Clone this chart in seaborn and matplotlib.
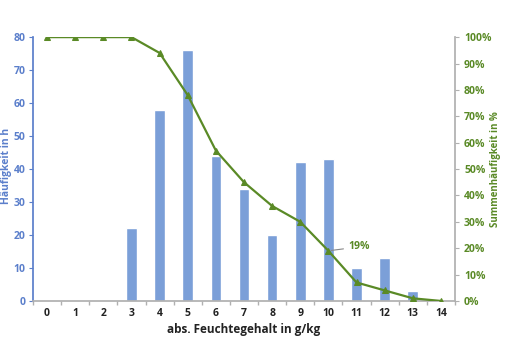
"""Häufigkeitsverteilung des absoluten Feuchtegehalts."""
import matplotlib
matplotlib.use("Agg")
import matplotlib.pyplot as plt
import matplotlib.ticker as mticker
import pandas as pd
import seaborn as sns

sns.set_theme(style="white")
plt.rcParams["font.family"] = ["Open Sans", "DejaVu Sans"]

feuchte = list(range(15))  # g/kg
haeufigkeit = [0, 0, 0, 22, 58, 76, 44, 34, 20, 42, 43, 10, 13, 3, 0]  # h
summen_pct = [100, 100, 100, 100, 94, 78, 57, 45, 36, 30, 19, 7, 4, 1, 0]  # %

BLUE_BAR = "#7b9fd8"
BLUE_TXT = "#5b7fcb"
GREEN = "#5a8a26"
GREY = "#b0b0b0"

df = pd.DataFrame({"x": feuchte, "h": haeufigkeit, "s": summen_pct})

fig = plt.figure(figsize=(5.06, 3.57), dpi=100)
ax = fig.add_axes([0.0652, 0.157, 0.834, 0.739])
sns.barplot(data=df, x="x", y="h", color=BLUE_BAR, width=0.38,
            saturation=1, ax=ax)
ax.set_xlim(-0.5, 14.5)
ax.set_ylim(0, 80)
ax.set_yticks(range(0, 81, 10))
ax.set_xlabel("abs. Feuchtegehalt in g/kg", fontsize=8.5, fontweight="bold",
              color="#222222", labelpad=3)
ax.set_ylabel("")
# axis titles placed by hand, the axes sit close to the figure edges
fig.text(6.5 / 506, 0.535, "Häufigkeit in h", rotation=90, ha="center",
         va="center", fontsize=7.5, fontweight="bold", color=BLUE_TXT)
ax.tick_params(axis="y", colors=BLUE_TXT, labelsize=7.5, length=3, width=0.8,
               direction="out", left=True, pad=2.5)
for t in ax.get_yticklabels():
    t.set_fontweight("bold")
ax.tick_params(axis="x", labelsize=7.5, length=0, pad=5, labelcolor="#222222")
for t in ax.get_xticklabels():
    t.set_fontweight("bold")
# category boundary ticks on the x axis
ax.set_xticks([i - 0.5 for i in range(16)], minor=True)
ax.tick_params(axis="x", which="minor", length=3, color=GREY, bottom=True,
               direction="out")
for side in ["top", "right"]:
    ax.spines[side].set_visible(False)
ax.spines["left"].set_color(BLUE_TXT)
ax.spines["bottom"].set_color(GREY)

ax2 = ax.twinx()
sns.lineplot(data=df, x="x", y="s", color=GREEN, linewidth=1.6, marker="^",
             markersize=4.5, markeredgecolor=GREEN, ax=ax2)
ax2.set_ylim(0, 100)
ax2.set_yticks(range(0, 101, 10))
ax2.yaxis.set_major_formatter(mticker.FuncFormatter(lambda v, _: f"{v:.0f}%"))
ax2.set_ylabel("")
fig.text(496 / 506, 0.527, "Summenhäufigkeit in %", rotation=90, ha="center",
         va="center", fontsize=7, fontweight="bold", color=GREEN)
ax2.tick_params(axis="y", colors=GREY, labelcolor=GREEN, labelsize=7.5,
                length=3, width=0.8, direction="out", right=True, pad=3.5)
for t in ax2.get_yticklabels():
    t.set_fontweight("bold")
for side in ["top", "left", "bottom"]:
    ax2.spines[side].set_visible(False)
ax2.spines["right"].set_color(GREY)

ax2.annotate(f"{summen_pct[10]}%", xy=(10, summen_pct[10]), xytext=(10.7, 20.5),
             fontsize=7.5, fontweight="bold", color=GREEN, va="center",
             arrowprops=dict(arrowstyle="-", color="#888888", lw=0.8,
                             shrinkA=1, shrinkB=2))

fig.savefig("out.png", dpi=100)
